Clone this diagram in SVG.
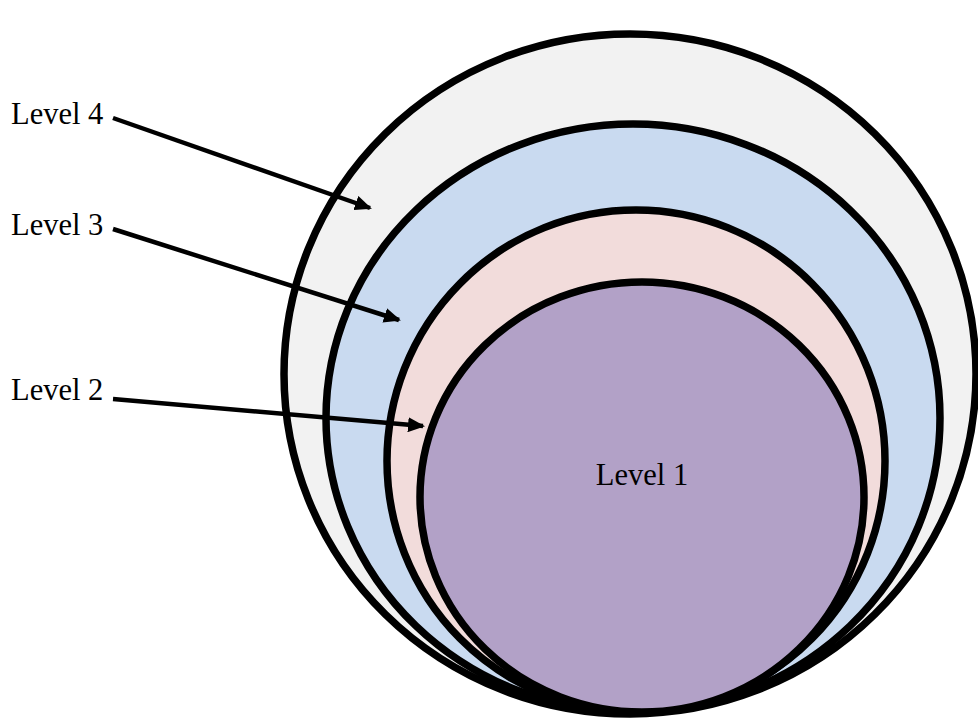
<svg xmlns="http://www.w3.org/2000/svg" width="978" height="720" viewBox="0 0 978 720">
  <defs>
    <marker id="arrow" markerUnits="userSpaceOnUse" markerWidth="17" markerHeight="15" refX="15" refY="7.5" orient="auto">
      <path d="M0,0 L17,7.5 L0,15 Z" fill="#000"/>
    </marker>
  </defs>
  <style>
    .ring { stroke: #000; stroke-width: 7.5; }
    .lbl { font-family: "Liberation Serif", "Times New Roman", serif; font-size: 30.5px; fill: #000; }
    .conn { stroke: #000; stroke-width: 4.5; fill: none; marker-end: url(#arrow); }
  </style>
  <rect width="978" height="720" fill="#fff"/>

  <g id="level4">
    <ellipse class="ring" cx="630" cy="374" rx="346" ry="340" fill="#f2f2f2"/>
  </g>
  <g id="level3">
    <ellipse class="ring" cx="633" cy="418" rx="307" ry="294" fill="#c9daf0"/>
  </g>
  <g id="level2">
    <ellipse class="ring" cx="636" cy="461" rx="249" ry="251" fill="#f2dcdb"/>
  </g>
  <g id="level1">
    <ellipse class="ring" cx="642" cy="497" rx="222" ry="215" fill="#b2a1c7"/>
    <text class="lbl" x="642" y="485" text-anchor="middle">Level 1</text>
  </g>

  <g id="labels">
    <text class="lbl" x="11" y="124">Level 4</text>
    <text class="lbl" x="11" y="235">Level 3</text>
    <text class="lbl" x="11" y="400">Level 2</text>
  </g>

  <g id="connectors">
    <line class="conn" x1="113" y1="118" x2="370" y2="208"/>
    <line class="conn" x1="113" y1="229" x2="399" y2="320"/>
    <line class="conn" x1="113" y1="399" x2="423" y2="426"/>
  </g>
</svg>
